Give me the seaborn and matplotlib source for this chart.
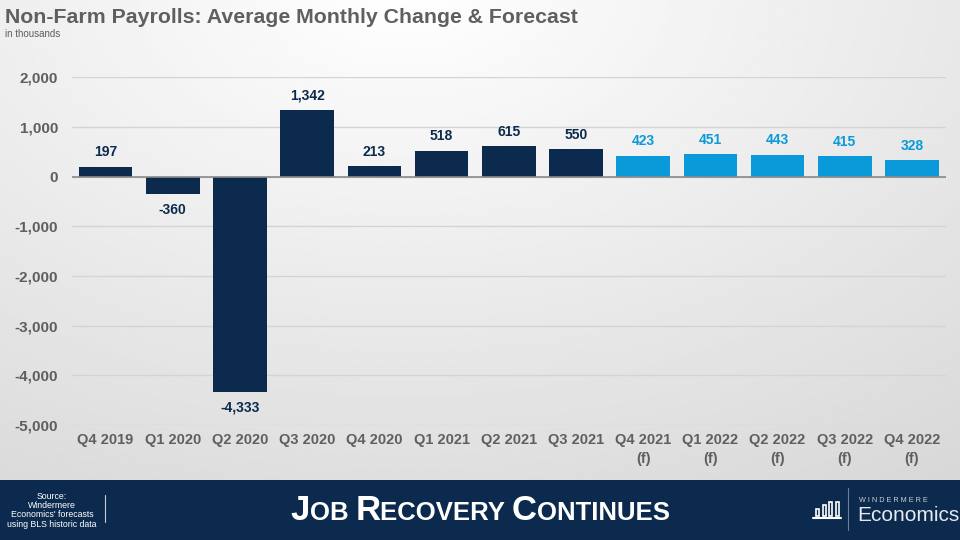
import numpy as np
import pandas as pd
import seaborn as sns
import matplotlib.pyplot as plt
from matplotlib.ticker import FuncFormatter

# data (thousands of jobs)
quarters = ['Q4 2019', 'Q1 2020', 'Q2 2020', 'Q3 2020', 'Q4 2020', 'Q1 2021',
            'Q2 2021', 'Q3 2021', 'Q4 2021\n(f)', 'Q1 2022\n(f)', 'Q2 2022\n(f)',
            'Q3 2022\n(f)', 'Q4 2022\n(f)']
changes = [197, -360, -4333, 1342, 213, 518, 615, 550, 423, 451, 443, 415, 328]
kind = ['Actual'] * 8 + ['Forecast'] * 5

NAVY = '#0c2a4d'
BLUE = '#0a9ad9'
GRAY = '#5f5f5f'
colors = {'Actual': NAVY, 'Forecast': BLUE}

df = pd.DataFrame({'quarter': quarters, 'change': changes, 'kind': kind})

sns.set_theme(style='white')
plt.rcParams['font.family'] = ['Liberation Sans', 'DejaVu Sans']

fig = plt.figure(figsize=(9.6, 5.4), dpi=100)

# slide background: soft radial grey gradient, lightest at top centre-left
bg = fig.add_axes([0, 0, 1, 1], zorder=-10)
yy, xx = np.mgrid[1:0:200j, 0:1:200j]
dist = np.sqrt(((xx - 0.42) * 1.1) ** 2 + (yy - 1.02) ** 2)
shade = np.clip(1.0 - 0.14 * dist, 0, 1)
bg.imshow(shade, cmap='gray', vmin=0, vmax=1, extent=[0, 1, 0, 1],
          aspect='auto', origin='upper')
bg.set_axis_off()

ax = fig.add_axes([0.075, 0.213, 0.910, 0.644])
ax.patch.set_alpha(0)
sns.barplot(data=df, x='quarter', y='change', hue='kind', palette=colors,
            dodge=False, width=0.8, saturation=1, legend=False, ax=ax,
            linewidth=0, zorder=3)

ax.set_ylim(-5000, 2000)
ax.set_yticks(range(-5000, 2001, 1000))
ax.yaxis.set_major_formatter(FuncFormatter(lambda v, p: f'{int(v):,}'))
ax.grid(axis='y', color='#d4d4d4', lw=1, zorder=0)
ax.axhline(0, color='#8a8a8a', lw=1.2, zorder=4)
for s in ax.spines.values():
    s.set_visible(False)
ax.tick_params(axis='both', length=0, pad=6)
ax.tick_params(axis='y', pad=10)
ax.set_xlabel('')
ax.set_ylabel('')
for lab in ax.get_xticklabels():
    lab.set_fontsize(10.5)
    lab.set_fontweight('bold')
    lab.set_color(GRAY)
    lab.set_linespacing(1.45)
for lab in ax.get_yticklabels():
    lab.set_fontsize(11)
    lab.set_fontweight('bold')
    lab.set_color(GRAY)

# value labels
for i, (v, k) in enumerate(zip(changes, kind)):
    off = 290 if v >= 0 else -320
    ax.text(i, v + off, f'{v:,}', ha='center', va='center', fontsize=10,
            fontweight='bold', color=colors[k], clip_on=False)

# title
fig.text(0.005, 0.968, 'Non-Farm Payrolls: Average Monthly Change & Forecast',
         fontsize=15.3, fontweight='bold', color=GRAY, ha='left', va='center')
fig.text(0.005, 0.937, 'in thousands', fontsize=7, color=GRAY, ha='left', va='center')

# footer band
foot = fig.add_axes([0, 0, 1, 0.111])
foot.set_xlim(0, 960)
foot.set_ylim(60, 0)
foot.set_facecolor(NAVY)
foot.set_xticks([])
foot.set_yticks([])
for s in foot.spines.values():
    s.set_visible(False)

foot.text(52, 30, "Source:\nWindermere\nEconomics' forecasts\nusing BLS historic data",
          ha='center', va='center', fontsize=6.3, color='white', linespacing=1.05)
foot.plot([105, 105], [15, 42], color='#c8ccd4', lw=0.8)

# small-caps headline
pieces = [('J', 25), ('OB ', 18.5), ('R', 25), ('ECOVERY ', 18.5), ('C', 25), ('ONTINUES', 18.5)]
renderer = fig.canvas.get_renderer()
fam = ['Liberation Sans Narrow', 'Liberation Sans', 'DejaVu Sans']
widths = []
for txt, fs in pieces:
    t = foot.text(0, 0, txt, fontsize=fs, fontweight='bold', family=fam)
    widths.append(t.get_window_extent(renderer).width)
    t.remove()
x = 480 - sum(widths) / 2
for (txt, fs), w in zip(pieces, widths):
    foot.text(x, 40, txt, fontsize=fs, fontweight='bold', color='white',
              family=fam, ha='left', va='baseline')
    x += w

# logo
for bx, bh in [(816, 7), (822.5, 11), (829, 14), (835.5, 14)]:
    foot.add_patch(plt.Rectangle((bx, 35.5 - bh), 3.2, bh, fill=False,
                                 ec='white', lw=1.2))
foot.plot([813, 841], [38, 38], color='white', lw=1.5)
foot.plot([848, 848], [8, 50], color='#6f809a', lw=0.8)
foot.text(859, 20, 'W I N D E R M E R E', fontsize=5.2, color='#c8d0dc',
          ha='left', va='center')
foot.text(857, 35, 'Economics', fontsize=15, color='#e6eaf0', ha='left',
          va='center', fontweight='light')

fig.savefig('out.png', dpi=100)
